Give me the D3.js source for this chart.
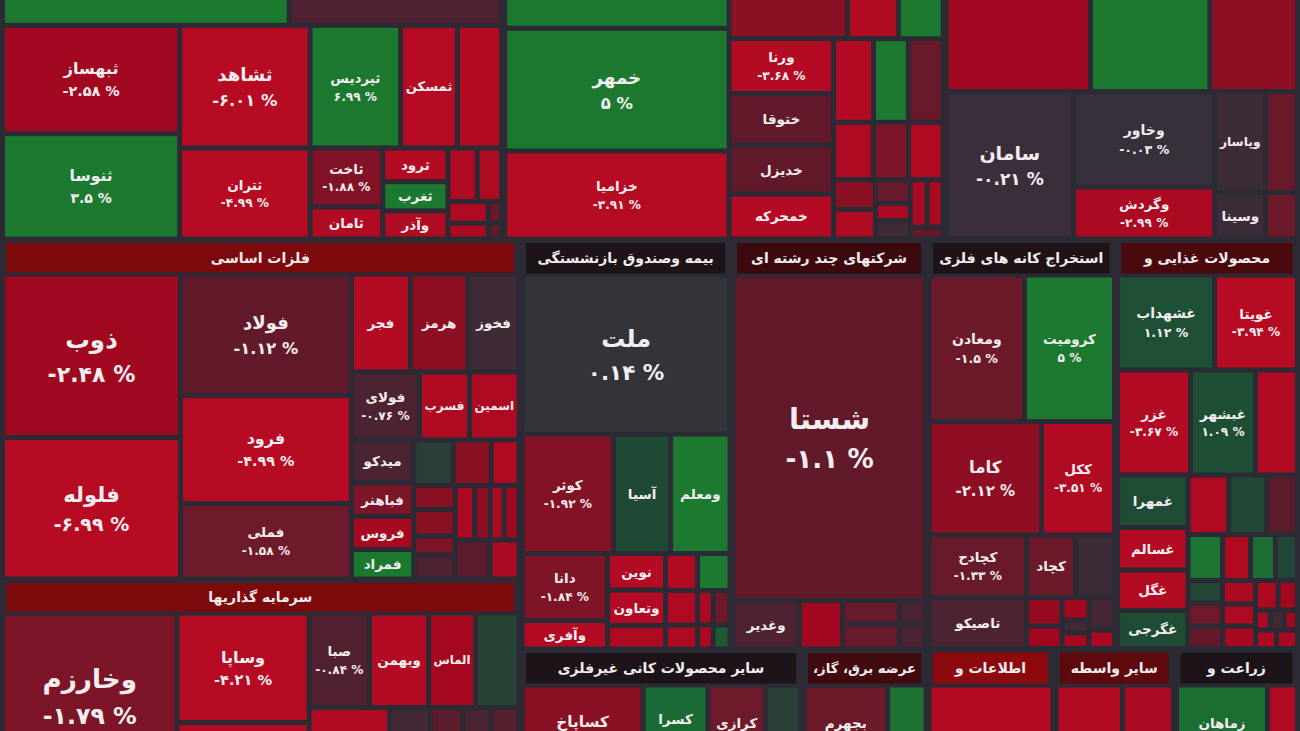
<!DOCTYPE html>
<html><head><meta charset="utf-8">
<script src="https://cdn.jsdelivr.net/npm/d3@7"></script>
<style>
html,body{margin:0;padding:0;background:#2b2a35;overflow:hidden;}
svg{display:block;}
text{font-family:"DejaVu Sans",sans-serif;font-weight:bold;}
</style></head><body>
<svg id="chart" width="1300" height="731"></svg>
<script>
// ---- DATA: leaf = [symbol, % change, market value, show % label]; "H"/"V" = group laid side by side / stacked
// Sector = ["S", title, sector % (header colour), title weight, body]

// sector A (construction, header off-screen)
const aTopRow = ["H", ["", 4, 18576, 0], ["", -0.8, 13770.75, 0]];
const aTiny = ["V",
  ["H", ["", -3.5, 1593, 0], ["", -3.2, 1323, 0]],
  ["H", ["", -3.2, 891, 0], ["", -1.4, 297, 0]],
  ["H", ["", -3, 648, 0], ["", -1.2, 216, 0]]
];
const aRight = ["V",
  ["H", ["ثپردیس", 6.99, 11284, 1], ["ثمسکن", -4, 7068, 0], ["", -3.8, 5518, 0]],
  ["H",
    ["V", ["ثاخت", -1.88, 4343.5, 1], ["ثامان", -3.5, 2372.5, 0]],
    ["V", ["ثرود", -3.8, 2227, 0], ["ثغرب", 3, 1932.25, 0], ["وآذر", -3.5, 1866.75, 0]],
    aTiny
  ]
];
const sectorA = ["S", null, null, 0, ["V",
  aTopRow,
  ["H",
    ["V", ["ثبهساز", -2.58, 19491, 1], ["ثنوسا", 3.5, 18957, 1]],
    ["V", ["ثشاهد", -6.01, 16244, 1], ["ثتران", -4.99, 12052, 1]],
    aRight
  ]
]];

// sector B (automotive)
const bSmall = ["V",
  ["H", ["", -3.6, 3380, 0], ["", 3.5, 2957.5, 0], ["", -1.4, 2957.5, 0]],
  ["H", ["", -3.2, 2320, 0], ["", -1.8, 2030, 0], ["", -3.4, 2030, 0]],
  ["H",
    ["V", ["", -2, 1260, 0], ["", -3.2, 1260, 0]],
    ["V", ["", -1.4, 840, 0], ["", -3, 612.5, 0], ["", -0.4, 647.5, 0]],
    ["V", ["H", ["", -3, 816, 0], ["", -2.8, 768, 0]], ["", -1.2, 396, 0]]
  ]
];
const bRight = ["V",
  ["H", ["", -2, 9282, 0], ["", -3.5, 3978, 0], ["", 4, 3510, 0]],
  ["H",
    ["V", ["ورنا", -3.68, 5827.5, 1], ["ختوقا", -1.1, 5460, 0], ["خدیزل", -1.1, 5197.5, 0], ["خمحرکه", -3.6, 4777.5, 0]],
    bSmall
  ]
];
const sectorB = ["S", null, null, 0, ["H",
  ["V", ["", 4, 15221.25, 0], ["خمهر", 5, 27962, 1], ["خزامیا", -3.91, 20069.5, 1]],
  bRight
]];

// sector C (transport)
const sectorC = ["S", null, null, 0, ["V",
  ["H", ["", -2.6, 19067.5, 0], ["", 4, 15780, 0], ["", -2.1, 11572, 0]],
  ["H",
    ["سامان", -0.21, 19072, 1],
    ["V", ["وخاور", -0.03, 13703, 1], ["وگردش", -2.99, 7455, 1]],
    ["H",
      ["V", ["وپاسار", -0.35, 5202, 0], ["وسینا", -0.35, 2397, 0]],
      ["V", ["", -1.4, 3264, 0], ["", -1.5, 1504, 0]]
    ]
  ]
]];

// basic metals
const metalsSmall = ["V",
  ["H", ["", 0.5, 1797, 0], ["", -2, 1729, 0], ["", -3.5, 1274, 0]],
  ["H",
    ["V", ["", -2, 996, 0], ["", -2, 1100, 0], ["", -1.8, 788.5, 0], ["", -0.8, 996, 0]],
    ["V",
      ["H", ["", -3, 1062.75, 0], ["", -2.2, 844.75, 0], ["", -3, 763, 0], ["", -2.5, 817.5, 0]],
      ["H", ["", -1, 1365, 0], ["", -3, 1131, 0]]
    ]
  ]
];
const metalsRight = ["V",
  ["H", ["فجر", -3.6, 5782, 0], ["هرمز", -2.1, 5635, 0], ["فخوز", -0.4, 4998, 0]],
  ["H", ["فولای", -0.76, 4624, 1], ["فسرب", -3.2, 3400, 0], ["اسمین", -3.2, 3366, 0]],
  ["H",
    ["V", ["میدکو", -0.7, 2687.5, 0], ["فباهنر", -1.8, 2093.75, 0], ["فروس", -2.8, 2062.5, 0], ["فمراد", 3, 1843.75, 0]],
    metalsSmall
  ]
];
const metals = ["S", "فلزات اساسی", -2.5, 16528, ["H",
  ["V", ["ذوب", -2.48, 29103, 1], ["فلوله", -6.99, 25187, 1]],
  ["V", ["فولاد", -1.12, 20776.5, 1], ["فرود", -4.99, 18468, 1], ["فملی", -1.58, 12910.5, 1]],
  metalsRight
]];

// investment companies
const investment = ["S", "سرمایه گذاریها", -2.5, 16011.5, ["H",
  ["وخارزم", -1.79, 30624.75, 1],
  ["V", ["وساپا", -4.21, 14454, 1], ["", -3.6, 8712, 0]],
  ["V",
    ["H", ["صبا", -0.84, 5717.25, 1], ["وبهمن", -3.6, 5575.5, 0], ["الماس", -2.7, 4441.5, 0], ["", 0.7, 4110.75, 0]],
    ["H", ["", -3.5, 6520.5, 0], ["", -0.5, 3280.5, 0], ["", -1, 2673, 0], ["", -0.7, 2227.5, 0], ["", -0.9, 2308.5, 0]]
  ]
]];

// insurance
const insuranceSmall = ["H",
  ["V", ["", -3.5, 1184, 0], ["", -3.3, 1104, 0], ["", -3.2, 768, 0]],
  ["V", ["", 3, 1202.5, 0], ["H", ["", -3, 534.75, 0], ["", -1.5, 586.5, 0]], ["H", ["", -3, 372, 0], ["", 1.5, 408, 0]]]
];
const insurance = ["S", "بیمه وصندوق بازنشستگی", 0, 6864, ["V",
  ["ملت", 0.14, 33072, 1],
  ["H", ["کوثر", -1.92, 10934.25, 1], ["آسیا", 0.9, 6811.5, 0], ["ومعلم", 3, 7110.25, 0]],
  ["H",
    ["V", ["دانا", -1.84, 5728.5, 1], ["وآفری", -3.6, 2436.75, 0]],
    ["V", ["نوین", -3.6, 2117, 0], ["وتعاون", -3.6, 2059, 0], ["", -3.2, 1363, 0]],
    insuranceSmall
  ]
]];

// multi-industry holdings
const holding = ["S", "شرکتهای چند رشته ای", -1, 6369, ["V",
  ["شستا", -1.1, 62821.5, 1],
  ["H",
    ["وغدیر", -0.8, 3225.25, 0],
    ["", -2.6, 2085.5, 0],
    ["V", ["", -1.4, 1339.5, 0], ["", -1.4, 1425, 0]],
    ["V", ["", -0.7, 622.75, 0], ["", -0.7, 662.5, 0]]
  ]
]];

// non-metallic minerals
const minerals = ["S", "سایر محصولات کانی غیرفلزی", 0, 9207, ["H",
  ["کساپاخ", -2, 12523.5, 1],
  ["V", ["کسرا", 2, 4355, 0], ["", 1, 2372.5, 0]],
  ["V", ["کرازی", -1.6, 4945, 0], ["", -1, 1006.25, 0]],
  ["", 0.5, 3674.25, 0]
]];

// utilities
const power = ["S", "عرضه برق، گاز،", -1.1, 4026, ["H",
  ["V", ["بجهرم", -1.5, 6262.5, 1], ["", -1.2, 2379.75, 0]],
  ["", 2.5, 3984.75, 0]
]];

// metal ore mining
const miningSmall = ["V",
  ["H", ["کچاد", -1.5, 3062.5, 0], ["", -0.35, 2437.5, 0]],
  ["H",
    ["V", ["", -2.3, 1011.75, 0], ["", -2.5, 798.75, 0]],
    ["V", ["", -2.6, 607.5, 0], ["", -0.5, 351, 0], ["", -2.8, 418.5, 0]],
    ["V", ["", -0.6, 828.75, 0], ["", -3, 471.75, 0]]
  ]
];
const mining = ["S", "استخراج کانه های فلزی", -0.1, 6121.5, ["V",
  ["H", ["ومعادن", -1.5, 13990.75, 1], ["کرومیت", 5, 13185, 1]],
  ["H", ["کاما", -2.12, 12768.75, 1], ["ککل", -3.51, 8285.5, 1]],
  ["H",
    ["V", ["کچادح", -1.33, 6093.75, 1], ["تاصیکو", -0.75, 4972.5, 0]],
    miningSmall
  ]
]];

// food
const foodSmall = ["V",
  ["H", ["", -3.2, 2409.75, 0], ["", 0.8, 2261, 0], ["", -1, 1844.5, 0]],
  ["H", ["", 2.6, 1587, 0], ["", -3.4, 1288, 0], ["", 2.2, 1150, 0], ["", 0.8, 1012, 0]],
  ["H",
    ["V", ["", 0.8, 776.25, 0], ["", -1.6, 793.5, 0], ["", -1.2, 776.25, 0]],
    ["V", ["", -3, 775.5, 0], ["", -3.2, 726, 0], ["", -2.8, 742.5, 0]],
    ["V",
      ["H", ["", -3, 663.75, 0], ["", -2.5, 575.25, 0]],
      ["H", ["", -3, 290, 0], ["", -0.5, 280, 0], ["", -2.5, 270, 0]],
      ["H", ["", -3, 388.5, 0], ["", -2.8, 388.5, 0]]
    ]
  ]
];
const food = ["S", "محصولات غذایی و", -1.3, 5940, ["V",
  ["H", ["غشهداب", 1.12, 9215, 1], ["غویتا", -3.94, 7885, 1]],
  ["H", ["غزر", -3.67, 7665, 1], ["غبشهر", 1.09, 6825, 1], ["", -3.5, 4410, 0]],
  ["H",
    ["V", ["غمهرا", 1, 3701.25, 0], ["غسالم", -3.6, 2996.25, 0], ["غگل", -3.6, 2855.25, 0], ["غگرجی", 1, 2679, 0]],
    foodSmall
  ]
]];

const ict = ["S", "اطلاعات و", -3, 4154, ["", -3.6, 12834, 0]];
const finance = ["S", "سایر واسطه", -1.7, 3936.25, ["H", ["", -3.5, 6882.75, 0], ["", -3, 5278.5, 0]]];
const agri = ["S", "زراعت و", 0, 4053.5, ["H",
  ["V", ["زماهان", 2.2, 7280, 1], ["", 1, 2138.5, 0]],
  ["", -3.5, 3105, 0]
]];

const topBand = ["H", sectorA, sectorB, sectorC];
const bottomBand = ["H",
  ["V", metals, investment],
  ["V", ["H", insurance, holding], ["H", minerals, power]],
  ["V", ["H", mining, food], ["H", ict, finance, agri]]
];

// ---- COLOUR SCALES
const cellColor = d3.scaleLinear()
  .domain([-4, -3, -2.5, -2, -1.6, -1.1, -0.8, -0.3, 0, 0.5, 1, 2, 3])
  .range(["#b60b23","#ac0a22","#a0081f","#8a1024","#6e1a2a","#621a2a","#4e2230","#3a2d38","#36303b","#2a3f37","#1e4c35","#1c6a33","#1b7a30"])
  .clamp(true);
const headColor = d3.scaleLinear()
  .domain([-3, -2, -1, 0, 1])
  .range(["#8c0a0e","#6c0a0c","#3c0a0e","#1c1418","#10281a"])
  .clamp(true);

const faDigits = "۰۱۲۳۴۵۶۷۸۹";
const fmtPct = p => String(p).replace(/\d/g, c => faDigits[+c]) + " %";

const SECTOR_PAD = 1.5;

function toNode(n, sec) {
  if (n[0] === "S") {
    const s = {kind: "sector", dir: "V", k: 1, children: []};
    if (n[1]) s.children.push({kind: "header", title: n[1], pct: n[2], value: n[3], sec: s});
    s.children.push(toNode(n[4], s));
    return s;
  }
  if (n[0] === "H" || n[0] === "V") return {kind: "group", dir: n[0], children: n.slice(1).map(c => toNode(c, sec))};
  return {kind: "leaf", name: n[0], pct: n[1], value: n[2], show: n[3], sec: sec};
}

function tile(node, x0, y0, x1, y1) {
  (node.data.dir === "H" ? d3.treemapDice : d3.treemapSlice)(node, x0, y0, x1, y1);
}

const svg = d3.select("#chart");
svg.append("rect").attr("width", 1300).attr("height", 731).attr("fill", "#2b2a35");

function fitText(t, maxW, fs, minFs) {
  const len = t.node().getComputedTextLength();
  if (len > maxW) {
    fs = fs * maxW / len;
    if (fs < minFs) { t.remove(); return 0; }
    t.attr("font-size", fs);
  }
  return fs;
}

function drawBand(tree, x, y, w, h) {
  const root = d3.hierarchy(toNode(tree, null));
  const tm = d3.treemap().tile(tile).size([w, h])
    .paddingOuter(d => d.data.kind === "sector" ? SECTOR_PAD : 0);
  // weights include each sector's share of the gap around it
  for (let i = 0; i < 6; i++) {
    root.sum(d => d.children ? 0 : d.value * (d.sec ? d.sec.k : 1));
    tm(root);
    root.descendants().forEach(s => {
      if (s.data.kind !== "sector") return;
      const iw = s.x1 - s.x0 - 2 * SECTOR_PAD, ih = s.y1 - s.y0 - 2 * SECTOR_PAD;
      s.data.k = ((iw + 2 * SECTOR_PAD) * (ih + 2 * SECTOR_PAD)) / (iw * ih);
    });
  }
  root.sum(d => d.children ? 0 : d.value * (d.sec ? d.sec.k : 1));
  tm(root);

  const limit = 731 - y;   // bottom edge of the picture, in band coordinates
  const g = svg.append("g").attr("transform", `translate(${x},${y})`);

  root.leaves().forEach(d => {
    const gi = g.append("g");
    if (d.data.kind === "header") {
      const hx = d.x0 + 4, hw = d.x1 - d.x0 - 9, hy = d.y0 + 1, hh = d.y1 - d.y0 - 2.5;
      gi.append("rect").attr("x", hx).attr("y", hy).attr("width", hw).attr("height", hh)
        .attr("fill", headColor(d.data.pct));
      const t = gi.append("text").attr("x", hx + hw / 2).attr("y", hy + hh / 2)
        .attr("text-anchor", "middle").attr("dominant-baseline", "central")
        .attr("direction", "rtl")
        .attr("font-size", 14).attr("fill", "#f4eef0").text(d.data.title);
      fitText(t, hw - 10, 14, 8);
      return;
    }
    const cw = d.x1 - d.x0 - 5, ch = d.y1 - d.y0 - 5;
    gi.append("rect").attr("x", d.x0 + 2.5).attr("y", d.y0 + 2.5)
      .attr("width", Math.max(0, cw)).attr("height", Math.max(0, ch))
      .attr("fill", cellColor(d.data.pct));
    if (!d.data.name) return;
    const cx = (d.x0 + d.x1) / 2, cy = (d.y0 + d.y1) / 2;
    let fs = Math.max(13.5, Math.min(32, Math.min(cw, ch) * 0.155));
    let show = d.data.show;
    if (show && ch < fs * 2.7) fs = Math.max(11, ch / 2.7);
    if (!show && ch < fs * 1.25) fs = ch / 1.25;
    const pfs = fs * 0.9;
    let nameY = show ? cy - 0.66 * fs : cy;
    let pctY = cy + 0.74 * fs;
    if (show) {
      const over = (pctY + 0.58 * pfs) - (limit - 1);
      if (over > 0 && over <= 0.3 * fs) { nameY -= over; pctY -= over; }
      else if (over > 0) { show = 0; nameY = cy; }
    }
    if (nameY + 0.55 * fs > limit - 1) nameY = limit - 1 - 0.55 * fs;
    const nt = gi.append("text").attr("x", cx).attr("y", nameY)
      .attr("text-anchor", "middle").attr("dominant-baseline", "central")
      .attr("direction", "rtl")
      .attr("font-size", fs).attr("fill", "#f4eef0").text(d.data.name);
    fitText(nt, cw - 5, fs, 9);
    if (show) {
      const pt = gi.append("text").attr("x", cx).attr("y", pctY)
        .attr("text-anchor", "middle").attr("dominant-baseline", "central")
        .attr("direction", "ltr")
        .attr("font-size", pfs).attr("fill", "#f4eef0").text(fmtPct(d.data.pct));
      fitText(pt, cw - 5, pfs, 9);
    }
  });
}

drawBand(topBand, 1, -40, 1298, 280.5);
drawBand(bottomBand, 1, 240.5, 1298, 549.5);
</script>
</body></html>
